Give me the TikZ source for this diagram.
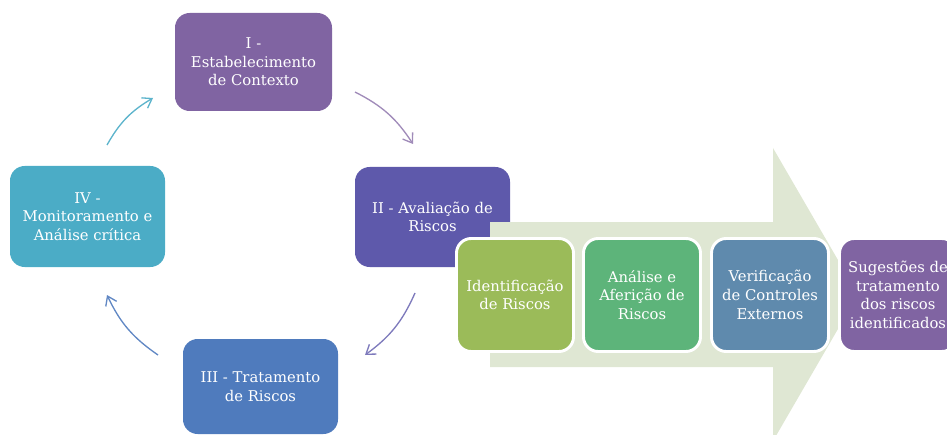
\documentclass[tikz,border=0pt]{standalone}
\usepackage{fontspec}
\setmainfont{DejaVu Serif}
\usetikzlibrary{calc}
\usetikzlibrary{arrows.meta}

\definecolor{corI}{HTML}{8064A2}
\definecolor{corII}{HTML}{5E59AB}
\definecolor{corIII}{HTML}{4F7BBD}
\definecolor{corIV}{HTML}{4BACC6}
\definecolor{corSeta}{HTML}{DFE7D3}
\definecolor{corA}{HTML}{9BBB59}
\definecolor{corB}{HTML}{5DB47A}
\definecolor{corC}{HTML}{5F8AAD}
\definecolor{corD}{HTML}{8064A2}

\begin{document}
\begin{tikzpicture}[x=0.75pt,y=-0.75pt,
  etapa/.style={rounded corners=11pt,align=center,text=white,inner sep=1pt,
    font=\fontsize{11.1}{14}\selectfont},
  passo/.style={etapa,draw=white,line width=2.2pt,minimum width=87.75pt,minimum height=84.75pt},
  ciclo/.style={-{Straight Barb[length=6.5pt,width=9pt]},line width=1pt,bend left=15}]
  % Boundary
  \path[use as bounding box] (0,0) rectangle (947,435);
  \clip (0,0) rectangle (947,435);
  % Cycle
  \node[etapa,fill=corI,minimum width=117.75pt,minimum height=73.5pt] (estI) at (253.5,62)
    {I -\\Estabelecimento\\de Contexto};
  \node[etapa,fill=corII,minimum width=116.25pt,minimum height=75pt] (estII) at (432.5,217)
    {II - Avaliação de\\Riscos};
  \node[etapa,fill=corIII,minimum width=116.25pt,minimum height=71.25pt] (estIII) at (260.5,386.5)
    {III - Tratamento\\de Riscos};
  \node[etapa,fill=corIV,minimum width=116.25pt,minimum height=75.75pt] (estIV) at (87.5,216.5)
    {IV -\\Monitoramento e\\Análise crítica};
  % Cycle arrows
  \coordinate (s1) at (355,92);  \coordinate (e1) at (413,144);
  \coordinate (s2) at (415,293); \coordinate (e2) at (365,355);
  \coordinate (s3) at (158,355); \coordinate (e3) at (107,295);
  \coordinate (s4) at (107,145); \coordinate (e4) at (153,98);
  \draw[ciclo,color=corI!75] (s1) to (e1);
  \draw[ciclo,color=corII!80] (s2) to (e2);
  \draw[ciclo,color=corIII!90] (s3) to (e3);
  \draw[ciclo,color=corIV!90] (s4) to (e4);
  % Big arrow
  \fill[corSeta] (490,222) -- (773,222) -- (773,148) -- (858,294.5) -- (773,441)
    -- (773,367) -- (490,367) -- cycle;
  % Steps
  \node[passo,fill=corA] (ident) at (515,295) {Identificação\\de Riscos};
  \node[passo,fill=corB] (anal) at (642,295) {Análise e\\Aferição de\\Riscos};
  \node[passo,fill=corC] (verif) at (770,295) {Verificação\\de Controles\\Externos};
  \node[passo,fill=corD] (suges) at (898,295) {Sugestões de\\tratamento\\dos riscos\\identificados};
\end{tikzpicture}
\end{document}
